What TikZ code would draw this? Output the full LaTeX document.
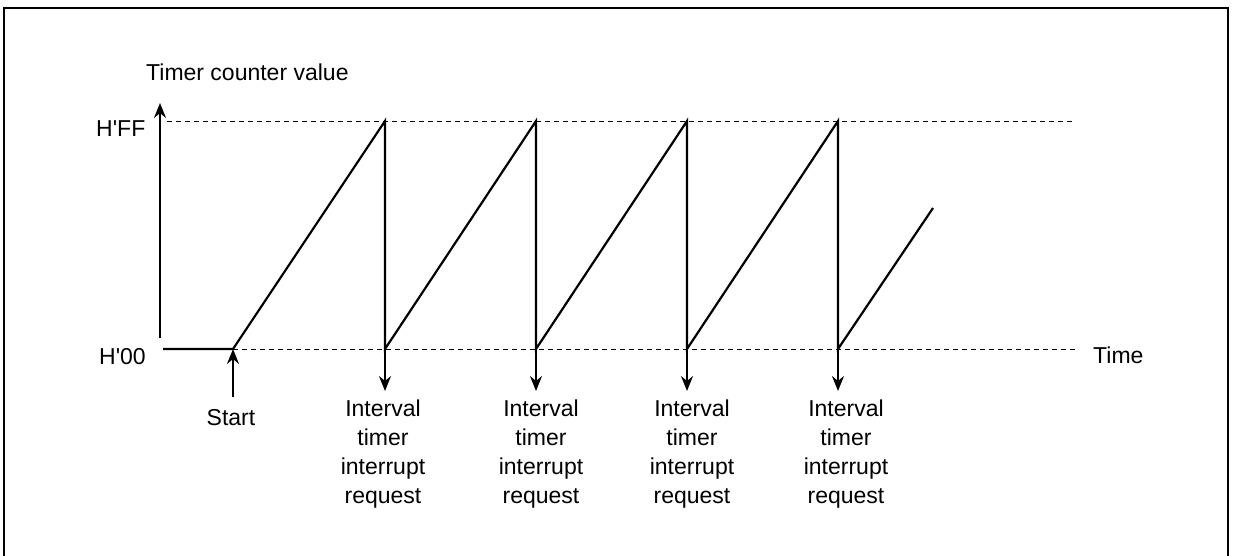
\documentclass[tikz,border=0pt]{standalone}
\usepackage{fontspec}
\setmainfont{Liberation Sans}
\usetikzlibrary{arrows.meta}
\begin{document}
\begin{tikzpicture}[x=1pt,y=-1pt,
  lbl/.style={inner sep=0pt,font=\fontsize{23}{29}\selectfont},
  ilbl/.style={lbl,align=center,anchor=north},
  saw/.style={line width=2.2pt,line join=miter},
  guide/.style={line width=0.9pt,dash pattern=on 5pt off 4pt},
  axisline/.style={line width=1.5pt,-{Stealth[length=15pt,width=12pt,inset=5pt]}},
  irq/.style={line width=1.5pt,-{Stealth[length=15pt,width=12pt,inset=5pt]}}]
\useasboundingbox (0,0) rectangle (1236,555);
\begin{scope}
\clip (0,0) rectangle (1236,555);
\draw[line width=2.5pt] (4,8) rectangle (1228,580);
\end{scope}
% coordinates
\coordinate (o) at (163,349);
\coordinate (s0) at (233,349);
\coordinate (p1) at (385,121);
\coordinate (b1) at (385,349);
\coordinate (p2) at (536,121);
\coordinate (b2) at (536,349);
\coordinate (p3) at (687,121);
\coordinate (b3) at (687,349);
\coordinate (p4) at (838,121);
\coordinate (b4) at (838,349);
\coordinate (e) at (933,208);
\coordinate (ffL) at (167,121);
\coordinate (ffR) at (1075,121);
\coordinate (zzR) at (1075,349);
\coordinate (ax0) at (160,338);
\coordinate (ax1) at (160,103);
\coordinate (st0) at (233,397);
\coordinate (a1) at (385,391);
\coordinate (a2) at (536,391);
\coordinate (a3) at (687,391);
\coordinate (a4) at (838,391);
% guides
\draw[guide] (ffL) -- (ffR);
\draw[guide] (s0) -- (zzR);
% axis
\draw[axisline] (ax0) -- (ax1);
% sawtooth
\draw[saw] (o) -- (s0) -- (p1) -- (b1) -- (p2) -- (b2) -- (p3) -- (b3) -- (p4) -- (b4) -- (e);
% arrows
\draw[irq] (st0) -- (s0);
\draw[irq] (b1) -- (a1);
\draw[irq] (b2) -- (a2);
\draw[irq] (b3) -- (a3);
\draw[irq] (b4) -- (a4);
% labels
\node[lbl,anchor=base west] (ylab) at (146,80) {Timer counter value};
\node[lbl,anchor=base west] (hff) at (96,136) {H\textquotesingle FF};
\node[lbl,anchor=base west] (h00) at (99,364) {H\textquotesingle 00};
\node[lbl,anchor=base west] (time) at (1093,363) {Time};
\node[lbl,anchor=base] (start) at (231,425) {Start};
\node[ilbl] (i1) at (383,400) {Interval\\timer\\interrupt\\request};
\node[ilbl] (i2) at (541,400) {Interval\\timer\\interrupt\\request};
\node[ilbl] (i3) at (692,400) {Interval\\timer\\interrupt\\request};
\node[ilbl] (i4) at (846,400) {Interval\\timer\\interrupt\\request};
\end{tikzpicture}
\end{document}
